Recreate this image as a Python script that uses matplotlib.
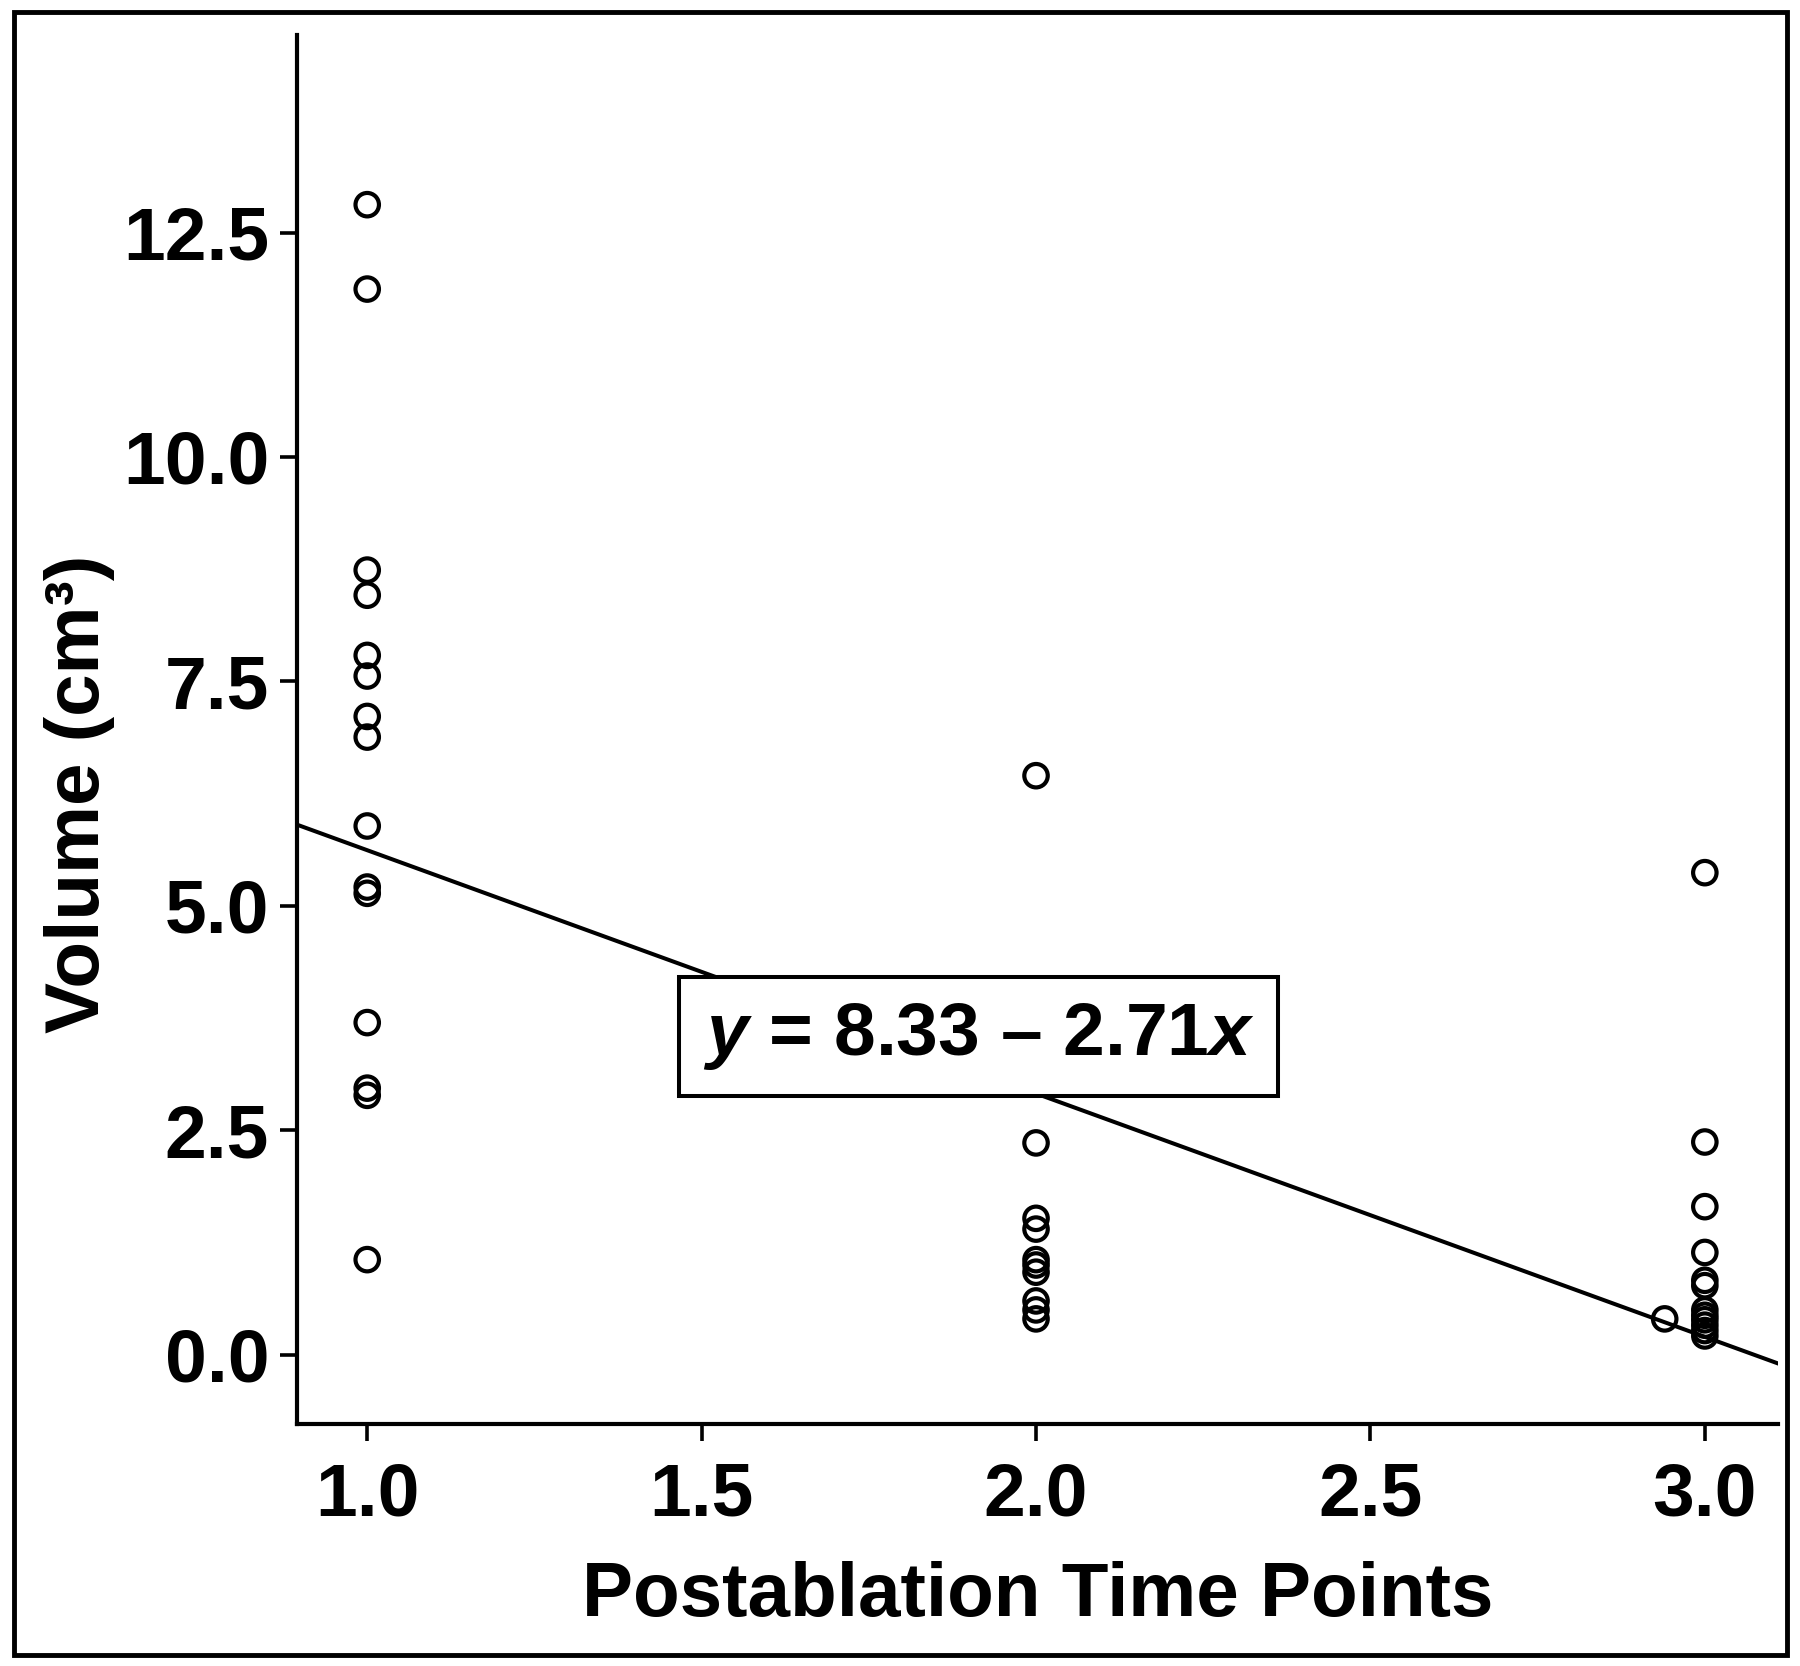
import numpy as np
import matplotlib
matplotlib.use("Agg")
import matplotlib.pyplot as plt
from matplotlib.patches import Rectangle

plt.rcParams['font.family'] = ['Liberation Sans', 'DejaVu Sans']
plt.rcParams['mathtext.fontset'] = 'custom'
plt.rcParams['mathtext.it'] = 'Liberation Sans:italic:bold'
plt.rcParams['mathtext.rm'] = 'Liberation Sans:bold'

# volumes, one list per time point
t1_vol = [12.81, 11.87, 8.74, 8.46, 7.79, 7.56, 7.11, 6.88, 5.89, 5.21, 5.14,
          3.70, 2.97, 2.89, 1.06]
t2_vol = [6.45, 2.36, 1.52, 1.40, 1.06, 1.00, 0.92, 0.60, 0.50, 0.40]
t3_vol = [5.37, 2.37, 1.65, 1.14, 0.83, 0.77, 0.50, 0.44, 0.39, 0.33, 0.27, 0.21]
extra_x = [2.94]
extra_y = [0.40]

intercept = 8.33
slope = -2.71

xticks = [1.0, 1.5, 2.0, 2.5, 3.0]
yticks = [0.0, 2.5, 5.0, 7.5, 10.0, 12.5]

x_all = [1.0] * len(t1_vol) + [2.0] * len(t2_vol) + [3.0] * len(t3_vol) + extra_x
y_all = t1_vol + t2_vol + t3_vol + extra_y

fig = plt.figure(figsize=(18, 16.66), dpi=100)
ax = fig.add_axes([0.165, 0.1453, 0.823, 0.8337])

# outer frame round the whole figure
fig.patches.append(Rectangle((0.0075, 0.0066), 0.985, 0.986, transform=fig.transFigure,
                             fill=False, edgecolor='black', linewidth=3.5))

ax.scatter(x_all, y_all, s=285, facecolors='none', edgecolors='black', linewidths=3.0, zorder=3)

xl = (0.895, 3.11)
xx = np.array(xl)
ax.plot(xx, intercept + slope * xx, color='black', linewidth=2.9, zorder=2)

ax.text(1.914, 3.54, r"$y$ = 8.33 – 2.71$x$", fontsize=54, fontweight='bold',
        ha='center', va='center', zorder=4,
        bbox=dict(boxstyle='square,pad=0.32', facecolor='white', edgecolor='black', linewidth=2.9))

ax.set_xlim(*xl)
ax.set_ylim(-0.77, 14.7)
ax.set_xticks(xticks)
ax.set_yticks(yticks)
ax.set_xticklabels([f"{v:.1f}" for v in xticks])
ax.set_yticklabels([f"{v:.1f}" for v in yticks])

for s in ['top', 'right']:
    ax.spines[s].set_visible(False)
for s in ['left', 'bottom']:
    ax.spines[s].set_linewidth(3)

ax.tick_params(axis='both', length=12, width=2.6, labelsize=54)
ax.tick_params(axis='x', pad=15)
ax.tick_params(axis='y', pad=8)
for lab in ax.get_xticklabels() + ax.get_yticklabels():
    lab.set_fontweight('bold')

ax.set_xlabel("Postablation Time Points", fontsize=55, fontweight='bold', labelpad=22)
ax.set_ylabel("Volume (cm³)", fontsize=55, fontweight='bold')
ylo, yhi = ax.get_ylim()
ax.yaxis.set_label_coords(-0.123, (6.25 - ylo) / (yhi - ylo))

fig.savefig("out.png", dpi=100)
